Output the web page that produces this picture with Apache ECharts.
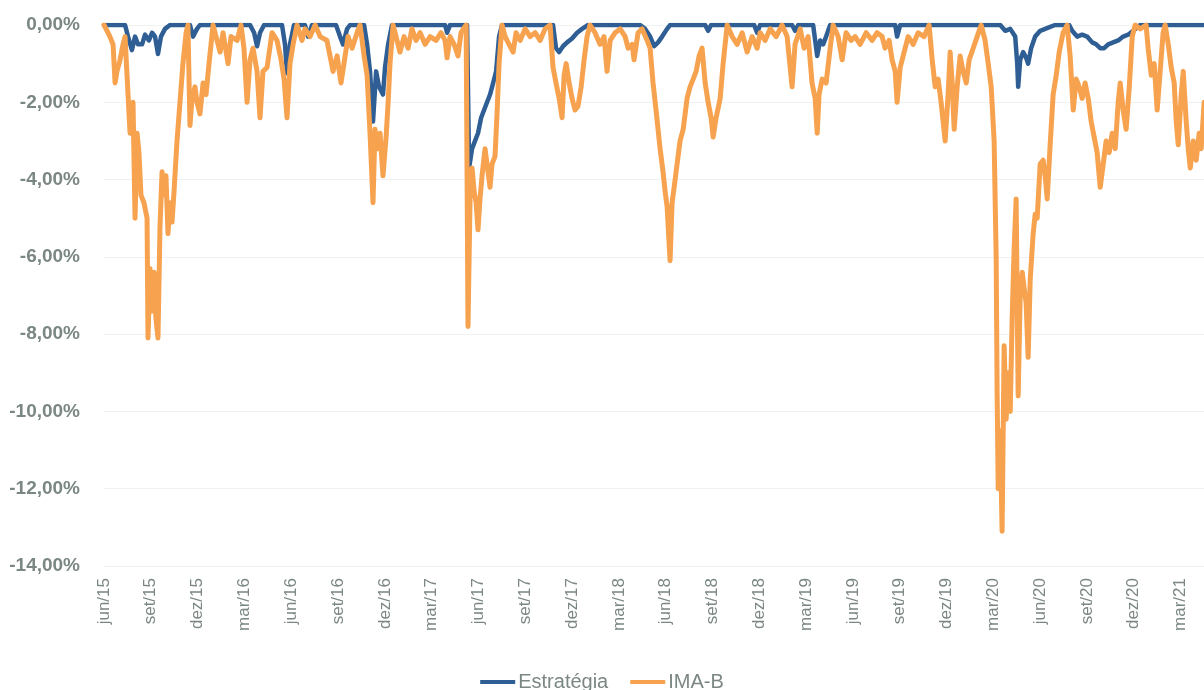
<!DOCTYPE html>
<html><head><meta charset="utf-8">
<script src="https://cdn.jsdelivr.net/npm/echarts@6/dist/echarts.min.js"></script>
<style>html,body{margin:0;padding:0;background:#fff}#c{width:1204px;height:690px}</style>
</head><body><div id="c"></div>
<script>
// x values: months elapsed since jun/15 ; y values: drawdown in %
const tickLabels = ['jun/15','set/15','dez/15','mar/16','jun/16','set/16','dez/16','mar/17','jun/17','set/17','dez/17','mar/18','jun/18','set/18','dez/18','mar/19','jun/19','set/19','dez/19','mar/20','jun/20','set/20','dez/20','mar/21'];
const seriesNames = ['Estratégia','IMA-B'];

const imaT = [0,0.13,0.38,0.58,0.71,0.83,1.03,1.22,1.35,1.54,1.67,1.86,1.99,2.12,2.24,2.37,2.56,2.76,2.82,2.95,3.08,3.21,3.33,3.46,3.59,3.72,3.85,3.97,4.10,4.23,4.36,4.49,4.68,4.87,5.06,5.26,5.38,5.51,5.64,5.83,5.96,6.15,6.35,6.54,6.73,6.99,7.18,7.44,7.63,7.95,8.14,8.53,8.78,8.97,9.17,9.36,9.55,9.81,10.0,10.19,10.45,10.77,11.09,11.35,11.54,11.73,11.92,12.12,12.37,12.69,12.88,13.21,13.53,13.85,14.29,14.68,14.94,15.19,15.38,15.64,15.9,16.22,16.41,16.67,16.86,17.05,17.24,17.37,17.5,17.69,17.88,18.08,18.21,18.33,18.53,18.78,18.97,19.23,19.49,19.74,20.0,20.26,20.58,20.9,21.28,21.6,21.86,21.99,22.18,22.44,22.69,22.88,23.21,23.33,23.46,23.59,23.72,23.85,23.97,24.1,24.23,24.42,24.55,24.74,24.87,25.06,25.19,25.32,25.51,25.71,25.96,26.22,26.41,26.67,26.99,27.31,27.63,27.95,28.27,28.59,28.78,28.97,29.17,29.36,29.49,29.62,29.81,30.0,30.19,30.38,30.58,30.77,30.96,31.15,31.47,31.79,32.05,32.24,32.44,32.76,33.08,33.4,33.59,33.85,33.97,34.23,34.49,34.81,35.0,35.19,35.38,35.64,35.83,35.96,36.09,36.28,36.41,36.54,36.73,36.92,37.12,37.37,37.56,37.76,37.95,38.14,38.33,38.53,38.72,38.91,39.04,39.23,39.49,39.68,39.94,40.26,40.58,40.9,41.22,41.54,41.86,42.05,42.37,42.69,43.08,43.46,43.78,44.1,44.29,44.62,44.87,45.13,45.38,45.58,45.71,45.83,46.03,46.28,46.54,46.73,47.05,47.31,47.56,47.88,48.14,48.46,48.85,49.23,49.55,49.87,50.06,50.32,50.51,50.71,50.83,51.03,51.28,51.54,51.86,52.18,52.56,52.88,53.08,53.27,53.46,53.65,53.78,53.91,54.1,54.23,54.36,54.49,54.68,54.87,55.06,55.26,55.45,55.71,55.96,56.22,56.47,56.67,56.86,57.05,57.18,57.24,57.31,57.44,57.56,57.69,57.82,57.95,58.08,58.21,58.33,58.46,58.59,58.72,58.85,58.97,59.1,59.23,59.36,59.55,59.68,59.81,60.0,60.19,60.32,60.45,60.64,60.83,61.03,61.22,61.47,61.73,61.92,62.12,62.31,62.5,62.69,62.88,63.08,63.27,63.46,63.65,63.85,64.04,64.23,64.42,64.62,64.81,65.0,65.13,65.32,65.51,65.71,65.9,66.09,66.41,66.79,66.92,67.12,67.31,67.5,67.69,67.88,68.01,68.21,68.4,68.59,68.72,68.85,69.04,69.17,69.36,69.49,69.62,69.81,70.0,70.19,70.32,70.51];
const imaV = [0,-0.1,-0.3,-0.5,-1.5,-1.2,-0.9,-0.5,-0.3,-1.8,-2.8,-2.0,-5.0,-2.8,-3.3,-4.4,-4.6,-5.0,-8.1,-6.3,-7.4,-6.4,-7.6,-8.1,-5.2,-3.8,-4.4,-3.9,-5.4,-4.6,-5.1,-4.3,-3.0,-2.0,-1.0,-0.2,0,-2.6,-1.9,-1.6,-2.0,-2.3,-1.5,-1.8,-1.0,0,-0.3,-0.7,-0.2,-1.0,-0.3,-0.4,0,-0.6,-2.0,-0.9,-0.6,-1.2,-2.4,-1.2,-1.1,-0.2,-0.4,-0.9,-1.4,-2.4,-1.0,-0.5,0,-0.4,-0.1,-0.3,0,-0.3,-0.4,-1.2,-0.8,-1.5,-1.0,-0.3,-0.6,-0.2,0,-0.8,-1.3,-2.8,-4.6,-2.7,-3.2,-2.8,-3.9,-2.9,-2.0,-1.0,0,-0.4,-0.7,-0.3,-0.6,-0.1,-0.4,-0.2,-0.5,-0.3,-0.4,-0.2,-0.4,-0.85,-0.3,-0.5,-0.8,-0.2,0,-7.8,-4.5,-3.7,-4.3,-4.6,-5.3,-4.5,-3.9,-3.2,-3.6,-4.2,-3.6,-3.4,-2.3,-1.0,0,-0.3,-0.5,-0.7,-0.2,-0.4,-0.1,-0.3,-0.2,-0.4,-0.1,0,-1.1,-1.5,-1.9,-2.4,-1.3,-1.0,-1.5,-1.9,-2.2,-2.1,-1.6,-0.9,-0.3,0,-0.2,-0.5,-0.3,-1.2,-0.4,-0.2,-0.1,-0.3,-0.6,-0.5,-0.9,-0.2,-0.1,-0.4,-0.6,-1.5,-2.2,-3.2,-3.8,-4.3,-4.7,-6.1,-4.6,-4.2,-3.6,-3.0,-2.7,-1.9,-1.6,-1.4,-1.2,-0.8,-0.6,-1.5,-2.0,-2.4,-2.9,-2.4,-1.9,-1.0,0,-0.3,-0.5,-0.2,-0.7,-0.3,-0.6,-0.2,-0.4,-0.1,-0.3,0,-0.3,-1.6,-0.5,-0.1,-0.6,-0.3,-1.5,-1.9,-2.8,-1.8,-1.4,-1.5,-0.6,0,-0.3,-0.9,-0.2,-0.4,-0.3,-0.5,-0.2,-0.4,-0.2,-0.3,-0.6,-0.4,-0.9,-1.2,-2.0,-1.1,-0.7,-0.3,-0.5,-0.2,-0.3,0,-0.9,-1.6,-1.4,-2.0,-2.5,-3.0,-1.8,-0.7,-1.5,-2.7,-1.6,-0.8,-1.2,-1.5,-0.9,-0.6,-0.3,0,-0.4,-1.0,-1.6,-3.0,-6.0,-9.5,-12.0,-10.5,-13.1,-8.3,-10.2,-9.0,-10.0,-7.5,-5.8,-4.5,-9.6,-7.0,-6.4,-6.8,-7.2,-8.6,-6.6,-5.4,-4.9,-5.0,-3.6,-3.5,-3.9,-4.5,-3.1,-1.8,-1.3,-0.7,-0.2,0,-0.8,-2.2,-1.4,-1.6,-1.9,-1.5,-1.9,-2.5,-2.9,-3.3,-4.2,-3.6,-3.0,-3.3,-2.8,-3.2,-2.0,-1.5,-2.2,-2.7,-1.6,-0.3,0,-0.1,0,-0.6,-1.3,-1.0,-2.2,-1.2,-0.2,0,-0.5,-1.1,-1.5,-2.5,-3.1,-1.8,-1.2,-2.5,-3.2,-3.7,-3.0,-3.5,-2.8,-3.2,-2.0];

const estT = [0,1.35,1.54,1.79,1.99,2.18,2.44,2.63,2.88,3.08,3.27,3.46,3.65,3.91,4.23,5.51,5.71,5.96,6.15,9.36,9.62,9.81,10.0,10.26,11.41,11.6,11.73,11.92,12.18,12.88,13.08,13.33,14.87,15.13,15.32,15.58,15.77,16.67,16.86,17.05,17.24,17.44,17.63,17.88,18.01,18.21,18.46,21.86,21.99,22.18,23.27,23.4,23.59,23.78,23.97,24.17,24.36,24.55,24.74,24.94,25.13,25.32,25.51,28.78,28.97,29.17,29.42,29.68,30.0,30.32,30.64,31.03,34.36,34.68,35.0,35.26,35.51,35.77,36.09,36.28,38.53,38.72,38.91,41.67,41.86,42.05,44.1,44.29,44.49,45.45,45.58,45.71,45.9,46.09,46.28,46.54,50.71,50.83,51.03,57.44,57.76,58.08,58.4,58.53,58.59,58.72,58.91,59.1,59.23,59.42,59.68,60.0,60.32,60.64,60.96,61.86,62.05,62.37,62.69,63.01,63.33,63.59,63.85,64.1,64.36,64.68,65.0,65.32,65.64,65.96,66.41,70.51];
const estV = [0,0,-0.3,-0.65,-0.3,-0.5,-0.5,-0.25,-0.4,-0.2,-0.3,-0.75,-0.3,-0.1,0,0,-0.3,-0.1,0,0,-0.2,-0.55,-0.2,0,0,-0.5,-1.25,-0.5,0,0,-0.3,0,0,-0.3,-0.5,-0.1,0,0,-0.5,-1.2,-2.5,-1.2,-1.6,-1.8,-1.1,-0.5,0,0,-0.2,0,0,-3.7,-3.2,-3.0,-2.8,-2.4,-2.2,-2.0,-1.8,-1.5,-1.2,-0.3,0,0,-0.6,-0.7,-0.55,-0.45,-0.35,-0.2,-0.1,0,0,-0.1,-0.3,-0.55,-0.45,-0.3,-0.1,0,0,-0.15,0,0,-0.2,0,0,-0.15,0,0,-0.4,-0.8,-0.4,-0.5,-0.3,0,0,-0.3,0,0,-0.15,-0.1,-0.3,-1.0,-1.6,-0.9,-0.7,-0.85,-1.0,-0.6,-0.3,-0.15,-0.1,-0.05,0,0,-0.15,-0.3,-0.25,-0.3,-0.45,-0.5,-0.6,-0.6,-0.5,-0.45,-0.4,-0.3,-0.25,-0.15,0,0];

const estData = estT.map((t, i) => [t, estV[i]]);
const imaData = imaT.map((t, i) => [t, imaV[i]]);

const labelColor = '#7b8783';
const chart = echarts.init(document.getElementById('c'), null, {renderer: 'canvas'});
chart.setOption({
  animation: false,
  backgroundColor: '#ffffff',
  grid: {left: 104, right: 0, top: 25, bottom: 124, containLabel: false},
  xAxis: {
    type: 'value', min: 0, max: 70.5, interval: 3,
    axisLine: {show: false}, axisTick: {show: false}, splitLine: {show: false},
    axisLabel: {
      rotate: 90, margin: 12, color: labelColor, fontSize: 17,
      fontFamily: 'Liberation Sans, Arial, sans-serif', showMaxLabel: false,
      formatter: v => (Math.abs(v % 3) < 1e-9 && tickLabels[Math.round(v / 3)]) ? tickLabels[Math.round(v / 3)] : ''
    }
  },
  yAxis: {
    type: 'value', min: -14, max: 0, interval: 2,
    axisLine: {show: false}, axisTick: {show: false},
    splitLine: {lineStyle: {color: '#f1f1f1', width: 1}},
    axisLabel: {
      margin: 24, color: labelColor, fontSize: 19, fontWeight: 'bold',
      fontFamily: 'Liberation Sans, Arial, sans-serif',
      formatter: v => v.toFixed(2).replace('.', ',') + '%'
    }
  },
  legend: {
    data: seriesNames, top: 667, left: 'center',
    icon: 'rect', itemWidth: 35, itemHeight: 4, itemGap: 22,
    textStyle: {color: labelColor, fontSize: 20, fontFamily: 'Liberation Sans, Arial, sans-serif', padding: [0, 0, 0, -2]}
  },
  series: [
    {name: seriesNames[0], type: 'line', data: estData, showSymbol: false, symbol: 'none',
     color: '#2e5e94', lineStyle: {color: '#2e5e94', width: 4.5, cap: 'round', join: 'round'}},
    {name: seriesNames[1], type: 'line', data: imaData, showSymbol: false, symbol: 'none',
     color: '#f6a24f', lineStyle: {color: '#f6a24f', width: 5, cap: 'round', join: 'round'}}
  ]
});
</script></body></html>
